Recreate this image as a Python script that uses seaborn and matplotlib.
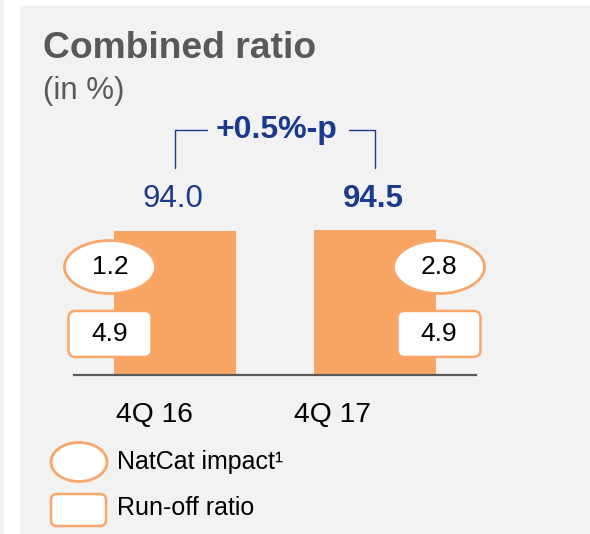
import matplotlib
matplotlib.use("Agg")
import matplotlib.pyplot as plt
import matplotlib.patches as mpatches
from matplotlib.transforms import ScaledTranslation
import seaborn as sns
import pandas as pd

# ---- data ----
categories = ["4Q 16", "4Q 17"]
combined_ratio = [94.0, 94.5]
value_labels = ["94.0", "94.5"]
natcat_impact = ["1.2", "2.8"]
runoff_ratio = ["4.9", "4.9"]
change_label = "+0.5%-p"
title = "Combined ratio"
subtitle = "(in %)"
legend_labels = ["NatCat impact\u00b9", "Run-off ratio"]

ORANGE = "#F8A463"
EDGE = "#F9A66A"
BLUE = "#1C3A8D"
GRAY_TXT = "#595959"
BG = "#F2F2F2"

sns.set_theme(style="white")
plt.rcParams["font.family"] = ["Liberation Sans", "DejaVu Sans"]

W, H, DPI = 590, 534, 100
fig = plt.figure(figsize=(W / DPI, H / DPI), dpi=DPI, facecolor=BG)

def px_rect(x0, y0, x1, y1, **kw):
    return mpatches.Rectangle((x0 / W, 1 - y1 / H), (x1 - x0) / W, (y1 - y0) / H,
                              transform=fig.transFigure, **kw)

# white strips framing the grey panel
fig.patches.append(px_rect(4, -1, 591, 6, facecolor="white", edgecolor="none", zorder=-2))
fig.patches.append(px_rect(4, -1, 20, 535, facecolor="white", edgecolor="none", zorder=-2))

# axes: baseline at y=375px, x from 74 to 476 px
ax_left, ax_right = 74, 476
base_y = 375
px_per_unit_y = 144 / 94.0
ax_h = px_per_unit_y * 100
ax = fig.add_axes([ax_left / W, (H - base_y) / H, (ax_right - ax_left) / W, ax_h / H])
ax.set_facecolor("none")
ax.set_zorder(2)

df = pd.DataFrame({"cat": categories, "val": combined_ratio})
bar_w = 0.61
sns.barplot(data=df, x="cat", y="val", color=ORANGE, saturation=1, width=bar_w,
            ax=ax, edgecolor="none", zorder=2)
ax.set_xlim(-0.505, 1.505)
ax.set_ylim(0, 100)
ax.set_xlabel("")
ax.set_ylabel("")
ax.set_xticks([])
ax.set_yticks([])
for s in ["top", "right", "left"]:
    ax.spines[s].set_visible(False)
ax.spines["bottom"].set_color(GRAY_TXT)
ax.spines["bottom"].set_linewidth(1.6)
ax.spines["bottom"].set_zorder(3)

# value labels
for i, (v, lab) in enumerate(zip(combined_ratio, value_labels)):
    ax.text(i - 0.01, 115, lab, ha="center", va="center", fontsize=22.5, color=BLUE,
            fontweight="bold" if i == 1 else "normal", clip_on=False)

# bracket
bk_top, bk_bot = 160, 135
ax.plot([0, 0, 0.16], [bk_bot, bk_top, bk_top], color=BLUE, lw=1.0, clip_on=False)
ax.plot([0.87, 1, 1], [bk_top, bk_top, bk_bot], color=BLUE, lw=1.0, clip_on=False)
ax.text(0.51, bk_top, change_label, ha="center", va="center", fontsize=23,
        fontweight="bold", color=BLUE, clip_on=False)

# category labels
cat_offsets = [-0.105, -0.215]
for i, c in enumerate(categories):
    ax.text(i + cat_offsets[i], -26, c, ha="center", va="center", fontsize=20.3,
            color="black", clip_on=False)

# label shapes anchored at bar edges
def anchored(x, y):
    return fig.dpi_scale_trans + ScaledTranslation(x, y, ax.transData)

edges = [0 - bar_w / 2 - 0.02, 1 + bar_w / 2 + 0.015]
ell_y, box_y = 70.5, 26.8
for i in range(len(categories)):
    xe = edges[i]
    e = mpatches.Ellipse((0, 0), 91 / DPI, 53 / DPI, facecolor="white", edgecolor=EDGE,
                         lw=2.0, transform=anchored(xe, ell_y), zorder=4, clip_on=False)
    ax.add_patch(e)
    bw, bh, r = 83 / DPI, 46 / DPI, 7 / DPI
    b = mpatches.FancyBboxPatch((-bw / 2, -bh / 2), bw, bh,
                                boxstyle=f"round,pad=0,rounding_size={r}",
                                facecolor="white", edgecolor=EDGE, lw=1.8,
                                transform=anchored(xe, box_y), zorder=4, clip_on=False)
    ax.add_patch(b)
    ax.text(xe, ell_y, natcat_impact[i], ha="center", va="center", fontsize=19,
            color="black", zorder=5, clip_on=False)
    ax.text(xe, box_y, runoff_ratio[i], ha="center", va="center", fontsize=19,
            color="black", zorder=5, clip_on=False)

# title
fig.text(43 / W, 1 - 58 / H, title, ha="left", va="baseline", fontsize=26.8,
         fontweight="bold", color=GRAY_TXT)
fig.text(43 / W, 1 - 99 / H, subtitle, ha="left", va="baseline", fontsize=22.5,
         color=GRAY_TXT)

# legend
def px_tr(x, y):
    return fig.dpi_scale_trans + ScaledTranslation(x / DPI, (H - y) / DPI, fig.dpi_scale_trans)

le = mpatches.Ellipse((0, 0), 56 / DPI, 39 / DPI, facecolor="white", edgecolor=EDGE,
                      lw=2.0, transform=px_tr(79, 462))
fig.patches.append(le)
lw_, lh_, lr_ = 55 / DPI, 32 / DPI, 6 / DPI
lb = mpatches.FancyBboxPatch((-lw_ / 2, -lh_ / 2), lw_, lh_,
                             boxstyle=f"round,pad=0,rounding_size={lr_}",
                             facecolor="white", edgecolor=EDGE, lw=1.8,
                             transform=px_tr(78.5, 510))
fig.patches.append(lb)
fig.text(117 / W, 1 - 462 / H, legend_labels[0], ha="left", va="center", fontsize=18,
         color="black")
fig.text(117 / W, 1 - 508 / H, legend_labels[1], ha="left", va="center", fontsize=18,
         color="black")

fig.savefig("out.png", dpi=DPI, facecolor=BG)
